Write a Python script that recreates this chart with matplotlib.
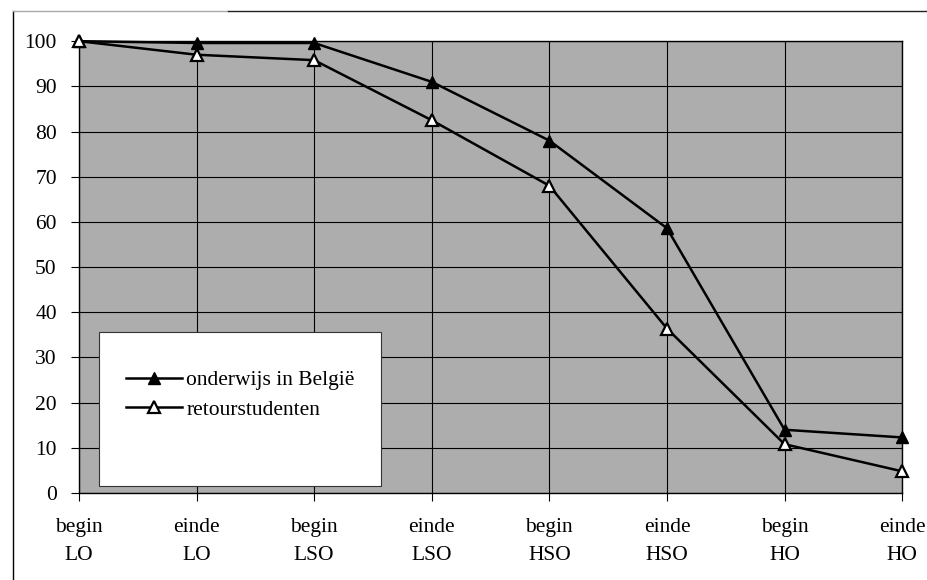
import matplotlib
matplotlib.use('Agg')
from matplotlib import pyplot as plt
from matplotlib.lines import Line2D
from matplotlib.patches import Rectangle

categories = ['begin\nLO', 'einde\nLO', 'begin\nLSO', 'einde\nLSO',
              'begin\nHSO', 'einde\nHSO', 'begin\nHO', 'einde\nHO']
belgie = [100, 99.6, 99.6, 91, 78, 58.6, 14, 12.3]
retour = [100, 97, 95.8, 82.5, 68, 36.4, 10.8, 4.8]
y_ticks = list(range(0, 101, 10))

plt.rcParams['font.family'] = ['Liberation Serif', 'DejaVu Serif']
plt.rcParams['font.size'] = 15.5

fig = plt.figure(figsize=(9.27, 5.8), dpi=100)
ax = fig.add_axes([0.0852, 0.15, 0.888, 0.779])
ax.set_facecolor('#adadad')

x = list(range(len(categories)))
ax.plot(x, belgie, color='black', lw=1.8, marker='^', ms=9,
        mfc='black', mec='black', clip_on=False, zorder=4,
        label='onderwijs in België')
ax.plot(x, retour, color='black', lw=1.8, marker='^', ms=9,
        mfc='white', mec='black', mew=1.6, clip_on=False, zorder=5,
        label='retourstudenten')

ax.set_xlim(0, len(categories) - 1)
ax.set_ylim(0, 100)
ax.set_xticks(x)
ax.set_xticklabels(categories, linespacing=1.65)
ax.set_yticks(y_ticks)
ax.grid(True, color='black', lw=0.8)
ax.set_axisbelow(True)
ax.tick_params(axis='x', direction='out', length=6, width=0.8, pad=12)
ax.tick_params(axis='y', direction='out', length=6, width=0.8, pad=10)
for s in ax.spines.values():
    s.set_color('black')
    s.set_linewidth(1.0)

# white legend box in the lower left of the plot
box = Rectangle((0.0243, 0.0155), 0.343, 0.34, transform=ax.transAxes,
                facecolor='white', edgecolor='#333333', lw=0.8, zorder=6)
ax.add_patch(box)
leg = ax.legend(loc='upper left', bbox_to_anchor=(0.057, 0.272),
                frameon=False, handlelength=2.6, handletextpad=0.2,
                labelspacing=0.43, borderaxespad=0, borderpad=0,
                fontsize=15.5)
leg.set_zorder(7)

# outer chart frame
fig.add_artist(Line2D([13 / 927, 13 / 927], [0, 1 - 11 / 580],
                      color='black', lw=1.0))
fig.add_artist(Line2D([13 / 927, 228 / 927], [1 - 11 / 580, 1 - 11 / 580],
                      color='#aaaaaa', lw=1.0))
fig.add_artist(Line2D([228 / 927, 1], [1 - 11 / 580, 1 - 11 / 580],
                      color='#222222', lw=1.0))

plt.savefig('out.png', dpi=100)
